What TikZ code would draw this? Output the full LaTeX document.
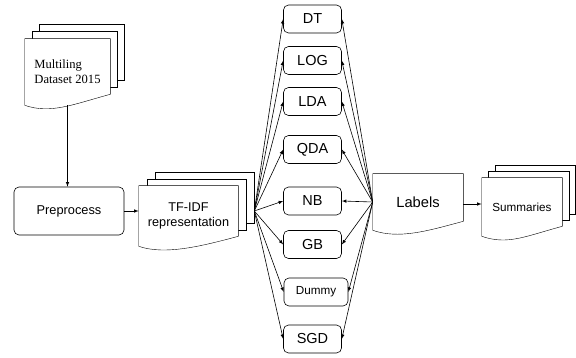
\documentclass[tikz,border=0pt]{standalone}
\usepackage{fontspec}
\setmainfont{Liberation Serif}
\setsansfont{Liberation Sans}
\usetikzlibrary{arrows,backgrounds}
\newcommand\fsz[2]{\fontsize{#1}{#2}\selectfont}
% stacked document: node, dx, dy, drop of right bottom
\newcommand\docstack[4]{%
  \draw[fill=white] ([xshift=2*#2pt,yshift=2*#3pt]#1.north west) rectangle ([xshift=2*#2pt,yshift=2*#3pt+#4pt]#1.south east);%%
  \draw[fill=white] ([xshift=#2pt,yshift=#3pt]#1.north west) rectangle ([xshift=#2pt,yshift=#3pt+#4pt]#1.south east);%%
  \docpage{#1}{#4}}
\newcommand\docpage[2]{%
  \draw[fill=white] (#1.south west) -- (#1.north west) -- (#1.north east) -- ([yshift=#2pt]#1.south east)
    .. controls +(-37,10) and +(26,9) .. (#1.south west) -- cycle;}

\begin{document}
\begin{tikzpicture}[x=1pt,y=-1pt,line width=.6pt]%
        \useasboundingbox (0,0) rectangle (576,358);%%
        \begin{scope}[shape=rectangle,inner sep=0pt]
        \tikzstyle{every node}=[font=\sffamily] %%
        \node[minimum width=85,minimum height=66,font=\rmfamily\fsz{12.6}{15},align=left] (dataset) at (67.5,72)  {Multiling\\Dataset 2015}; %%
        \node[minimum width=99,minimum height=60,font=\sffamily\fsz{12.7}{14.5},align=center] (tfidf) at (188.5,216)  {TF-IDF\\representation}; %%
        \node[minimum width=90,minimum height=56,font=\sffamily\fsz{14.7}{17}] (labels) at (418,202)  {Labels}; %%
        \node[minimum width=80,minimum height=58,font=\sffamily\fsz{11.7}{14}] (summaries) at (522,207)  {Summaries}; %%
        \end{scope}
        \begin{scope}[shape=rectangle,rounded corners=5pt,inner sep=0pt]
        \tikzstyle{every node}=[draw,font=\sffamily\fsz{14.5}{17},minimum width=58,minimum height=28] %%
        \node[minimum width=110,minimum height=48,font=\sffamily\fsz{12.8}{15}] (preprocess) at (69,211)  {Preprocess}; %%
        \node (dt) at (312.5,19)  {DT}; %%
        \node (log) at (312.5,60.5)  {LOG}; %%
        \node (lda) at (312.5,101.5)  {LDA}; %%
        \node (qda) at (312.5,149.5)  {QDA}; %%
        \node (nb) at (312.5,201)  {NB}; %%
        \node (gb) at (312.5,244.5)  {GB}; %%
        \node[minimum width=64,font=\sffamily\fsz{11.7}{14}] (dummy) at (316,292)  {Dummy}; %%
        \node (sgd) at (312.5,339)  {SGD}; %%
        \end{scope}
        \begin{scope}[on background layer]
        \docstack{dataset}{7}{7}{11} %%
        \docstack{tfidf}{8}{6.5}{10} %%
        \docstack{summaries}{6.5}{6}{10} %%
        \docpage{labels}{9} %%
        \end{scope}
        \coordinate (tfout) at ([xshift=16pt,yshift=5pt]tfidf.east); %%
\draw[->,-latex] (dataset.south)--(dataset.south |- preprocess.north); %%
\draw[->,-latex] (preprocess)--(preprocess -| tfidf.west); %%
\draw[->,-latex] ([yshift=-2pt]labels.east)--([yshift=-2pt]labels.east -| summaries.west); %%
\draw[->,-latex] (tfout)--(dt.west); %%
\draw[->,-latex] (tfout)--(log.west); %%
\draw[->,-latex] (tfout)--(lda.west); %%
\draw[->,-latex] (tfout)--(qda.west); %%
\draw[->,-latex] (tfout)--(nb.west); %%
\draw[->,-latex] (tfout)--(gb.west); %%
\draw[->,-latex] (tfout)--(dummy.west); %%
\draw[->,-latex] (tfout)--(sgd.west); %%
\draw[->,-latex] (labels.west)--(dt.east); %%
\draw[->,-latex] (labels.west)--(log.east); %%
\draw[->,-latex] (labels.west)--(lda.east); %%
\draw[->,-latex] (labels.west)--(qda.east); %%
\draw[->,-latex] (labels.west)--(nb.east); %%
\draw[->,-latex] (labels.west)--(gb.east); %%
\draw[->,-latex] (labels.west)--(dummy.east); %%
\draw[->,-latex] (labels.west)--(sgd.east); %%
\end{tikzpicture}
\end{document}
